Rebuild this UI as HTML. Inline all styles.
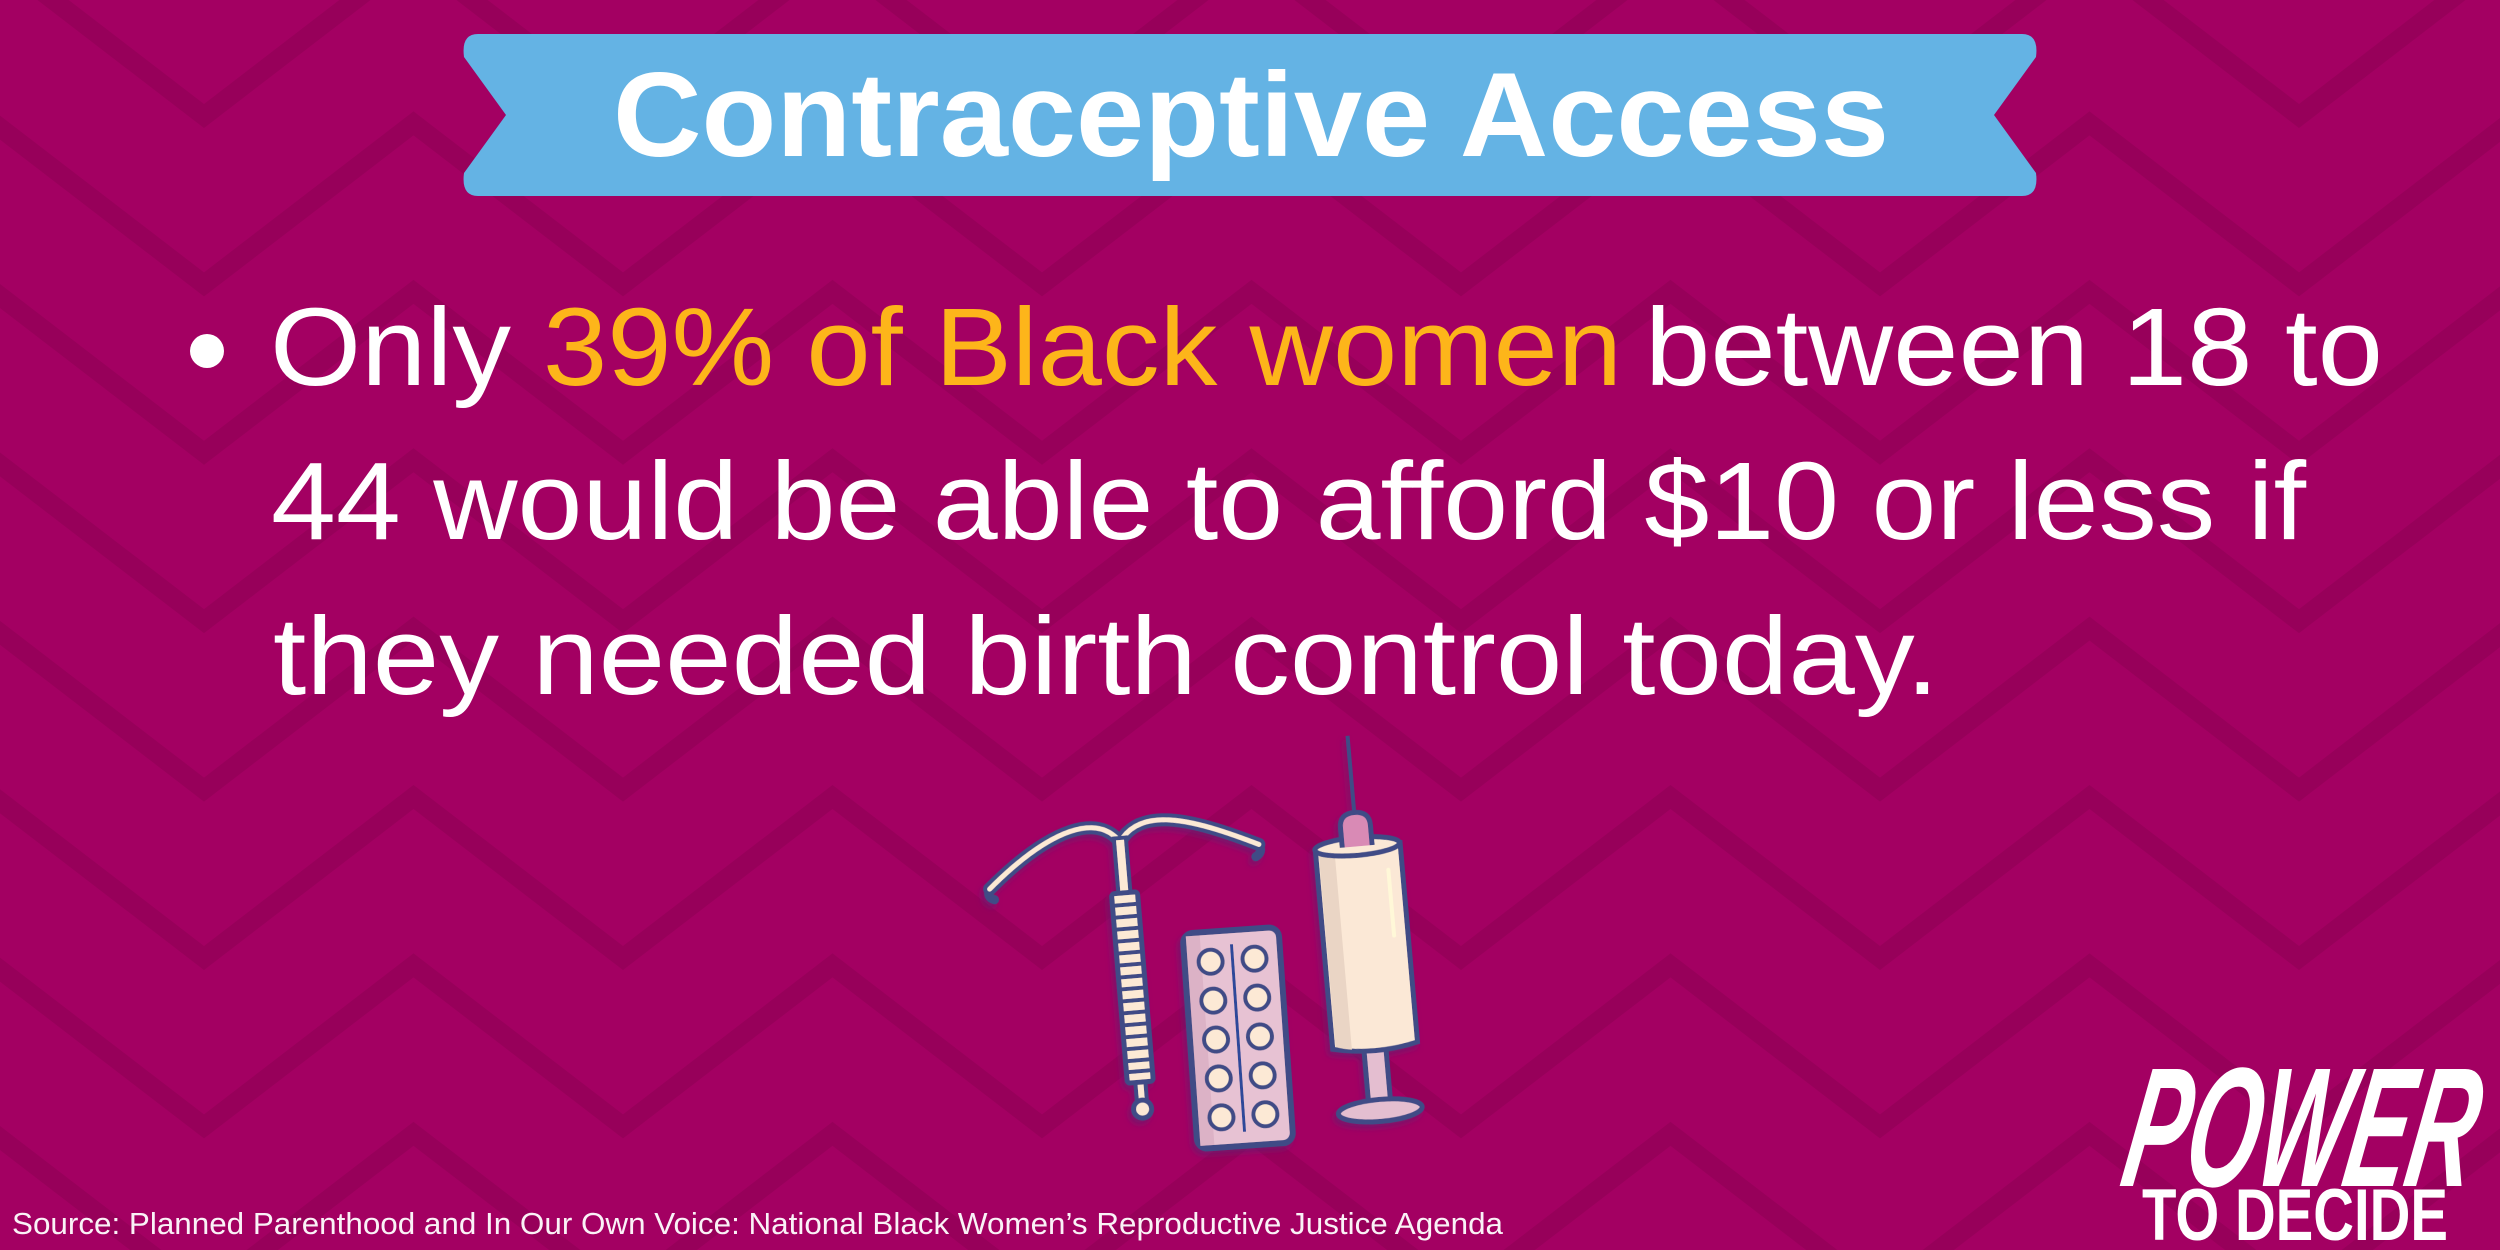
<!DOCTYPE html>
<html>
<head>
<meta charset="utf-8">
<style>
html,body{margin:0;padding:0;background:#a30062;}
svg{display:block;}
</style>
</head>
<body>
<svg width="2500" height="1250" viewBox="0 0 2500 1250" xmlns="http://www.w3.org/2000/svg">
  <defs>
    <filter id="sh" x="-20%" y="-20%" width="140%" height="140%">
      <feDropShadow dx="-3" dy="4" stdDeviation="3" flood-color="#6b1f6e" flood-opacity="0.7"/>
    </filter>
  </defs>
  <rect x="0" y="0" width="2500" height="1250" fill="#a30062"/>
  <!-- chevron background -->
  <g fill="none" stroke="#97005a" stroke-width="19" stroke-linejoin="miter">
    <g transform="translate(0,116)"><polyline points="-215,0 -5.5,-161 204,0 413.5,-161 623,0 832.5,-161 1042,0 1251.5,-161 1461,0 1670.5,-161 1880,0 2089.5,-161 2299,0 2508.5,-161 2718,0"/></g>
    <g transform="translate(0,284.4)"><polyline points="-215,0 -5.5,-161 204,0 413.5,-161 623,0 832.5,-161 1042,0 1251.5,-161 1461,0 1670.5,-161 1880,0 2089.5,-161 2299,0 2508.5,-161 2718,0"/></g>
    <g transform="translate(0,452.8)"><polyline points="-215,0 -5.5,-161 204,0 413.5,-161 623,0 832.5,-161 1042,0 1251.5,-161 1461,0 1670.5,-161 1880,0 2089.5,-161 2299,0 2508.5,-161 2718,0"/></g>
    <g transform="translate(0,621.2)"><polyline points="-215,0 -5.5,-161 204,0 413.5,-161 623,0 832.5,-161 1042,0 1251.5,-161 1461,0 1670.5,-161 1880,0 2089.5,-161 2299,0 2508.5,-161 2718,0"/></g>
    <g transform="translate(0,789.6)"><polyline points="-215,0 -5.5,-161 204,0 413.5,-161 623,0 832.5,-161 1042,0 1251.5,-161 1461,0 1670.5,-161 1880,0 2089.5,-161 2299,0 2508.5,-161 2718,0"/></g>
    <g transform="translate(0,958)"><polyline points="-215,0 -5.5,-161 204,0 413.5,-161 623,0 832.5,-161 1042,0 1251.5,-161 1461,0 1670.5,-161 1880,0 2089.5,-161 2299,0 2508.5,-161 2718,0"/></g>
    <g transform="translate(0,1126.4)"><polyline points="-215,0 -5.5,-161 204,0 413.5,-161 623,0 832.5,-161 1042,0 1251.5,-161 1461,0 1670.5,-161 1880,0 2089.5,-161 2299,0 2508.5,-161 2718,0"/></g>
    <g transform="translate(0,1294.8)"><polyline points="-215,0 -5.5,-161 204,0 413.5,-161 623,0 832.5,-161 1042,0 1251.5,-161 1461,0 1670.5,-161 1880,0 2089.5,-161 2299,0 2508.5,-161 2718,0"/></g>
  </g>

  <!-- banner -->
  <path d="M478,34 H2022 Q2039,34 2036,57 L1994,115 L2036,173 Q2039,196 2022,196 H478 Q461,196 464,173 L506,115 L464,57 Q461,34 478,34 Z" fill="#64b3e4"/>
  <text x="1251" y="156" text-anchor="middle" font-family="Liberation Sans, Arial, sans-serif" font-weight="bold" font-size="120" fill="#ffffff" textLength="1276" lengthAdjust="spacingAndGlyphs">Contraceptive Access</text>

  <!-- bullet text -->
  <circle cx="207" cy="351" r="17" fill="#ffffff"/>
  <g font-family="Liberation Sans, Arial, sans-serif" font-size="110" fill="#ffffff">
    <text x="270" y="385" textLength="241" lengthAdjust="spacingAndGlyphs">Only</text>
    <text x="543" y="385" textLength="1079" lengthAdjust="spacingAndGlyphs" fill="#fdb51a">39% of Black women</text>
    <text x="1645" y="385" textLength="738" lengthAdjust="spacingAndGlyphs">between 18 to</text>
    <text x="271" y="539" textLength="2035" lengthAdjust="spacingAndGlyphs">44 would be able to afford $10 or less if</text>
    <text x="273" y="694" textLength="1666" lengthAdjust="spacingAndGlyphs">they needed birth control today.</text>
  </g>

  <!-- IUD -->
  <g filter="url(#sh)" transform="rotate(-4.8 1120 840)">
    <path d="M1120,842 C1096,806 1040,832 986,878" fill="none" stroke="#404b86" stroke-width="13" stroke-linecap="round"/>
    <path d="M1120,842 C1144,806 1200,828 1258,856" fill="none" stroke="#404b86" stroke-width="13" stroke-linecap="round"/>
    <path d="M986,878 Q982,886 990,889" fill="none" stroke="#404b86" stroke-width="9" stroke-linecap="round"/>
    <path d="M1258,856 Q1262,864 1254,868" fill="none" stroke="#404b86" stroke-width="9" stroke-linecap="round"/>
    <path d="M1120,842 C1096,806 1040,832 986,878" fill="none" stroke="#fce9d5" stroke-width="5" stroke-linecap="round"/>
    <path d="M1120,842 C1144,806 1200,828 1258,856" fill="none" stroke="#fce9d5" stroke-width="5" stroke-linecap="round"/>
    <rect x="1114" y="838" width="12" height="60" fill="#fce9d5" stroke="#404b86" stroke-width="4"/>
    <rect x="1115" y="1080" width="10" height="24" fill="#fce9d5" stroke="#404b86" stroke-width="4"/>
    <rect x="1107" y="893" width="26" height="190" rx="3" fill="#fce9d5" stroke="#404b86" stroke-width="5"/>
    <g stroke="#404b86" stroke-width="4">
      <line x1="1107" y1="905" x2="1133" y2="905"/>
      <line x1="1107" y1="917" x2="1133" y2="917"/>
      <line x1="1107" y1="929" x2="1133" y2="929"/>
      <line x1="1107" y1="941" x2="1133" y2="941"/>
      <line x1="1107" y1="953" x2="1133" y2="953"/>
      <line x1="1107" y1="965" x2="1133" y2="965"/>
      <line x1="1107" y1="977" x2="1133" y2="977"/>
      <line x1="1107" y1="989" x2="1133" y2="989"/>
      <line x1="1107" y1="1001" x2="1133" y2="1001"/>
      <line x1="1107" y1="1013" x2="1133" y2="1013"/>
      <line x1="1107" y1="1025" x2="1133" y2="1025"/>
      <line x1="1107" y1="1037" x2="1133" y2="1037"/>
      <line x1="1107" y1="1049" x2="1133" y2="1049"/>
      <line x1="1107" y1="1061" x2="1133" y2="1061"/>
      <line x1="1107" y1="1072" x2="1133" y2="1072"/>
    </g>
    <circle cx="1120" cy="1110" r="9" fill="#fce9d5" stroke="#404b86" stroke-width="5"/>
  </g>

  <!-- pill pack -->
  <g filter="url(#sh)" transform="translate(1238,1038) rotate(-4)">
    <rect x="-48" y="-108" width="96" height="216" rx="10" fill="#e7c2d3" stroke="#404b86" stroke-width="6"/>
    <rect x="-45" y="-105" width="14" height="210" fill="#dcb2c6"/>
    <line x1="0" y1="-94" x2="0" y2="94" stroke="#2e4a9a" stroke-width="3"/>
    <g fill="#fce9d5" stroke="#404b86" stroke-width="4">
      <circle cx="-22" cy="-78" r="12"/><circle cx="22" cy="-78" r="12"/>
      <circle cx="-22" cy="-39" r="12"/><circle cx="22" cy="-39" r="12"/>
      <circle cx="-22" cy="0" r="12"/><circle cx="22" cy="0" r="12"/>
      <circle cx="-22" cy="39" r="12"/><circle cx="22" cy="39" r="12"/>
      <circle cx="-22" cy="78" r="12"/><circle cx="22" cy="78" r="12"/>
    </g>
  </g>

  <!-- syringe -->
  <g filter="url(#sh)" transform="rotate(-5 1366 947)">
    <line x1="1366" y1="735" x2="1366" y2="815" stroke="#404b86" stroke-width="4"/>
    <rect x="1355" y="1048" width="22" height="60" fill="#e4bed0" stroke="#404b86" stroke-width="5"/>
    <ellipse cx="1366" cy="1111" rx="42" ry="11" fill="#e4bed0" stroke="#404b86" stroke-width="5"/>
    <path d="M1324,846 V1046 Q1366,1056 1409,1046 V846 Z" fill="#fbe8d6" stroke="#404b86" stroke-width="5"/>
    <path d="M1327,850 V1044 Q1335,1047 1343,1048 V852 Z" fill="#ead5c5"/>
    <ellipse cx="1366" cy="846" rx="42.5" ry="9" fill="#fbe8d6" stroke="#404b86" stroke-width="5"/>
    <path d="M1351,846 V826 Q1351,812 1366,812 Q1381,812 1381,826 V846" fill="#d98ab5" stroke="#404b86" stroke-width="5"/>
    <rect x="1393" y="870" width="4" height="70" rx="2" fill="#fff8d8"/>
  </g>

  <!-- logo -->
  <g transform="translate(2118,1186) skewX(-10)">
    <text x="0" y="0" font-family="Liberation Sans, Arial, sans-serif" font-weight="bold" font-style="italic" font-size="170" fill="#ffffff" textLength="350" lengthAdjust="spacingAndGlyphs">POWER</text>
  </g>
  <text x="2142" y="1240" font-family="Liberation Sans, Arial, sans-serif" font-weight="bold" font-size="73" fill="#ffffff" textLength="306" lengthAdjust="spacingAndGlyphs">TO DECIDE</text>

  <!-- source -->
  <text x="12" y="1234" font-family="Liberation Sans, Arial, sans-serif" font-size="31" fill="#ffffff" fill-opacity="0.95" textLength="1491" lengthAdjust="spacingAndGlyphs">Source: Planned Parenthood and In Our Own Voice: National Black Women’s Reproductive Justice Agenda</text>
</svg>
</body>
</html>
